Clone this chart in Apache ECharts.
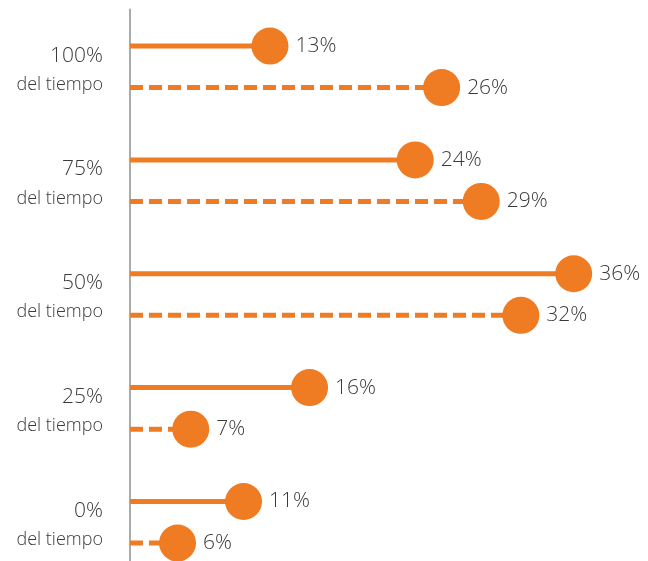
<!DOCTYPE html>
<html>
<head>
<meta charset="utf-8">
<style>
  html, body { margin: 0; padding: 0; background: #fff; }
  #chart { width: 648px; height: 561px; }
</style>
<script src="https://cdn.jsdelivr.net/npm/echarts@6/dist/echarts.min.js"></script>
</head>
<body>
<div id="chart"></div>
<script>
// Share of time categories (top to bottom) and the two compared series
const categories = ['100%', '75%', '50%', '25%', '0%'];
const subLabel = 'del tiempo';
const solidValues = [13, 24, 36, 16, 11];
const dashedValues = [26, 29, 32, 7, 6];

const ORANGE = '#EF7B22';
const TEXT = '#3a3a3a';
const FONT = '"Open Sans", Lato, sans-serif';
const X_MIN = 2.4;
const X_MAX = 40;

// Lollipop: a stem from the axis to the value, a dot, and the value label
function lollipop(shift, dashed) {
  return function (params, api) {
    const v = api.value(0);
    const c = api.value(1);
    const band = api.size([0, 1])[1];
    const end = api.coord([v, c]);
    const start = api.coord([X_MIN, c]);
    const y = end[1] + shift * band;
    const r = 18.5;
    return {
      type: 'group',
      children: [
        {
          type: 'line',
          shape: { x1: start[0], y1: y, x2: end[0], y2: y },
          style: { stroke: ORANGE, lineWidth: 5, lineDash: dashed ? [13, 6] : null }
        },
        {
          type: 'circle',
          shape: { cx: end[0], cy: y, r: r },
          style: { fill: ORANGE }
        },
        {
          type: 'text',
          x: end[0] + r + 7,
          y: y,
          style: {
            text: v + '%',
            fill: TEXT,
            fontFamily: FONT,
            fontWeight: 300,
            fontSize: 21,
            align: 'left',
            verticalAlign: 'middle'
          }
        }
      ]
    };
  };
}

const chart = echarts.init(document.getElementById('chart'));
chart.setOption({
  animation: false,
  backgroundColor: '#fff',
  grid: {
    left: 130,
    right: 21.5,
    top: 9.6,
    bottom: -17.9,
    containLabel: false,
    outerBoundsMode: 'none'
  },
  xAxis: {
    type: 'value',
    min: X_MIN,
    max: X_MAX,
    show: false
  },
  yAxis: {
    type: 'category',
    data: categories,
    inverse: true,
    axisLine: { show: true, lineStyle: { color: '#ababab', width: 2 } },
    axisTick: { show: false },
    splitLine: { show: false },
    axisLabel: {
      margin: 27,
      padding: [8, 0, 0, 0],
      formatter: function (v) { return '{a|' + v + '}\n{b|' + subLabel + '}'; },
      rich: {
        a: { fontSize: 21, lineHeight: 28, color: TEXT, fontFamily: FONT, fontWeight: 300, align: 'right' },
        b: { fontSize: 18, lineHeight: 30, color: TEXT, fontFamily: FONT, fontWeight: 300, align: 'right' }
      }
    }
  },
  series: [
    {
      type: 'custom',
      name: 'solid',
      renderItem: lollipop(-0.18, false),
      encode: { x: 0, y: 1 },
      data: solidValues.map((v, i) => [v, i])
    },
    {
      type: 'custom',
      name: 'dashed',
      renderItem: lollipop(0.185, true),
      encode: { x: 0, y: 1 },
      data: dashedValues.map((v, i) => [v, i])
    }
  ]
});
</script>
</body>
</html>
